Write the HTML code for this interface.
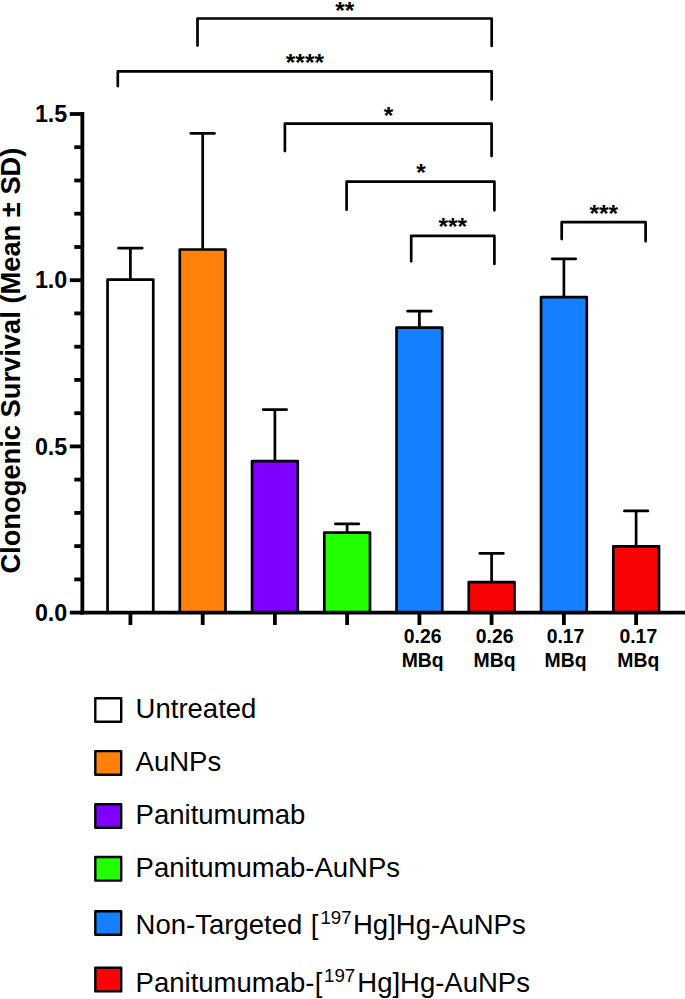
<!DOCTYPE html>
<html lang="en"><head><meta charset="utf-8"><title>Clonogenic Survival</title>
<style>html,body{margin:0;padding:0;background:#fff}body{width:685px;height:999px;overflow:hidden}svg{display:block}text{font-family:"Liberation Sans",Arial,Helvetica,sans-serif;fill:#000}.b{font-weight:bold}</style></head><body>
<svg width="685" height="999" viewBox="0 0 685 999">
<rect width="685" height="999" fill="#fff"/>
<g stroke="#000" stroke-width="2.7" stroke-linecap="round" fill="none">
<path d="M130.4 279.7V248.2M118.6 248.2H142.2"/>
<path d="M202.7 249.5V133.4M190.8 133.4H214.5"/>
<path d="M274.9 461.1V409.6M263.1 409.6H286.7"/>
<path d="M347.1 532.7V523.8M335.3 523.8H358.9"/>
<path d="M419.4 327.7V311.2M407.6 311.2H431.2"/>
<path d="M491.6 582.1V553.4M479.8 553.4H503.4"/>
<path d="M563.9 297.2V258.8M552.1 258.8H575.7"/>
<path d="M636.1 546.3V510.9M624.4 510.9H647.9"/>
</g>
<g stroke="#000" stroke-width="2.7" stroke-linejoin="round">
<rect x="107.55" y="279.7" width="45.7" height="332.9" fill="#ffffff"/>
<rect x="179.80" y="249.5" width="45.7" height="363.1" fill="#ff800a"/>
<rect x="252.05" y="461.1" width="45.7" height="151.5" fill="#8000ff"/>
<rect x="324.30" y="532.7" width="45.7" height="79.9" fill="#22ff00"/>
<rect x="396.55" y="327.7" width="45.7" height="284.9" fill="#1480ff"/>
<rect x="468.80" y="582.1" width="45.7" height="30.5" fill="#fb0207"/>
<rect x="541.05" y="297.2" width="45.7" height="315.4" fill="#1480ff"/>
<rect x="613.30" y="546.3" width="45.7" height="66.3" fill="#fb0207"/>
</g>
<g stroke="#000" stroke-width="3.8" fill="none" stroke-linecap="butt">
<path d="M82.35 112.10V614.50"/>
<path d="M80.44999999999999 612.6H685"/>
<path d="M69.8 612.6H82.35"/>
<path d="M74.3 579.4H82.35"/>
<path d="M74.3 546.1H82.35"/>
<path d="M74.3 512.9H82.35"/>
<path d="M74.3 479.6H82.35"/>
<path d="M69.8 446.4H82.35"/>
<path d="M74.3 413.2H82.35"/>
<path d="M74.3 379.9H82.35"/>
<path d="M74.3 346.7H82.35"/>
<path d="M74.3 313.4H82.35"/>
<path d="M69.8 280.2H82.35"/>
<path d="M74.3 247.0H82.35"/>
<path d="M74.3 213.7H82.35"/>
<path d="M74.3 180.5H82.35"/>
<path d="M74.3 147.2H82.35"/>
<path d="M69.8 114.0H82.35"/>
<path d="M130.4 612.6V625.0"/>
<path d="M202.7 612.6V625.0"/>
<path d="M274.9 612.6V625.0"/>
<path d="M347.1 612.6V625.0"/>
<path d="M419.4 612.6V625.0"/>
<path d="M491.6 612.6V625.0"/>
<path d="M563.9 612.6V625.0"/>
<path d="M636.1 612.6V625.0"/>
</g>
<text class="b" x="67.3" y="122.1" font-size="23.3" text-anchor="end">1.5</text>
<text class="b" x="67.3" y="288.3" font-size="23.3" text-anchor="end">1.0</text>
<text class="b" x="67.3" y="454.5" font-size="23.3" text-anchor="end">0.5</text>
<text class="b" x="67.3" y="620.7" font-size="23.3" text-anchor="end">0.0</text>
<text class="b" transform="translate(20.4 573.6) rotate(-90)" font-size="27.3">Clonogenic Survival (Mean ± SD)</text>
<text class="b" x="422.7" y="643.2" font-size="19.4" text-anchor="middle">0.26</text>
<text class="b" x="422.7" y="666.8" font-size="19.4" text-anchor="middle">MBq</text>
<text class="b" x="494.6" y="643.2" font-size="19.4" text-anchor="middle">0.26</text>
<text class="b" x="494.6" y="666.8" font-size="19.4" text-anchor="middle">MBq</text>
<text class="b" x="565.5" y="643.2" font-size="19.4" text-anchor="middle">0.17</text>
<text class="b" x="565.5" y="666.8" font-size="19.4" text-anchor="middle">MBq</text>
<text class="b" x="638.3" y="643.2" font-size="19.4" text-anchor="middle">0.17</text>
<text class="b" x="638.3" y="666.8" font-size="19.4" text-anchor="middle">MBq</text>
<g stroke="#000" stroke-width="2.7" stroke-linecap="round" stroke-linejoin="round" fill="none">
<path d="M197.5 45.6V18.5H491.7V46.0"/>
<path d="M117.8 86.1V71.4H491.7V99.4"/>
<path d="M284.9 151.1V123.7H491.6V156.1"/>
<path d="M346.6 209.7V181.6H494.4V210.3"/>
<path d="M411.2 261.3V235.8H494.4V263.9"/>
<path d="M561.7 239.1V222.2H645.6V241.2"/>
</g>
<text class="b" x="344.75" y="18.6" font-size="24.5" text-anchor="middle">**</text>
<text class="b" x="304.9" y="71.3" font-size="24.5" text-anchor="middle">****</text>
<text class="b" x="388.6" y="123.6" font-size="24.5" text-anchor="middle">*</text>
<text class="b" x="420.9" y="180.5" font-size="24.5" text-anchor="middle">*</text>
<text class="b" x="452.8" y="235.0" font-size="24.5" text-anchor="middle">***</text>
<text class="b" x="603.7" y="221.7" font-size="24.5" text-anchor="middle">***</text>
<rect x="95.3" y="698.20" width="25.9" height="23.6" fill="#ffffff" stroke="#000" stroke-width="2.4" stroke-linejoin="round"/>
<text x="135.6" y="718.4" font-size="27.5">Untreated</text>
<rect x="95.3" y="751.10" width="25.9" height="23.6" fill="#ff800a" stroke="#000" stroke-width="2.4" stroke-linejoin="round"/>
<text x="135.6" y="771.4" font-size="27.5">AuNPs</text>
<rect x="95.3" y="804.20" width="25.9" height="23.6" fill="#8000ff" stroke="#000" stroke-width="2.4" stroke-linejoin="round"/>
<text x="135.6" y="824.3" font-size="27.5">Panitumumab</text>
<rect x="95.3" y="857.00" width="25.9" height="23.6" fill="#22ff00" stroke="#000" stroke-width="2.4" stroke-linejoin="round"/>
<text x="135.6" y="876.5" font-size="27.5">Panitumumab-AuNPs</text>
<rect x="95.3" y="911.20" width="25.9" height="23.6" fill="#1480ff" stroke="#000" stroke-width="2.4" stroke-linejoin="round"/>
<text x="135.6" y="934" font-size="27.5">Non-Targeted <tspan dx="1">[</tspan><tspan font-size="18.7" dx="1.9" dy="-9.6">197</tspan><tspan dx="1.4" dy="9.6">Hg]Hg-AuNPs</tspan></text>
<rect x="95.3" y="967.80" width="25.9" height="23.6" fill="#fb0207" stroke="#000" stroke-width="2.4" stroke-linejoin="round"/>
<text x="135.6" y="991.5" font-size="27.5">Panitumumab-<tspan dx="0.2">[</tspan><tspan font-size="18.7" dx="1.8" dy="-9.6">197</tspan><tspan dx="2.0" dy="9.6">Hg]Hg-AuNPs</tspan></text>
</svg></body></html>
